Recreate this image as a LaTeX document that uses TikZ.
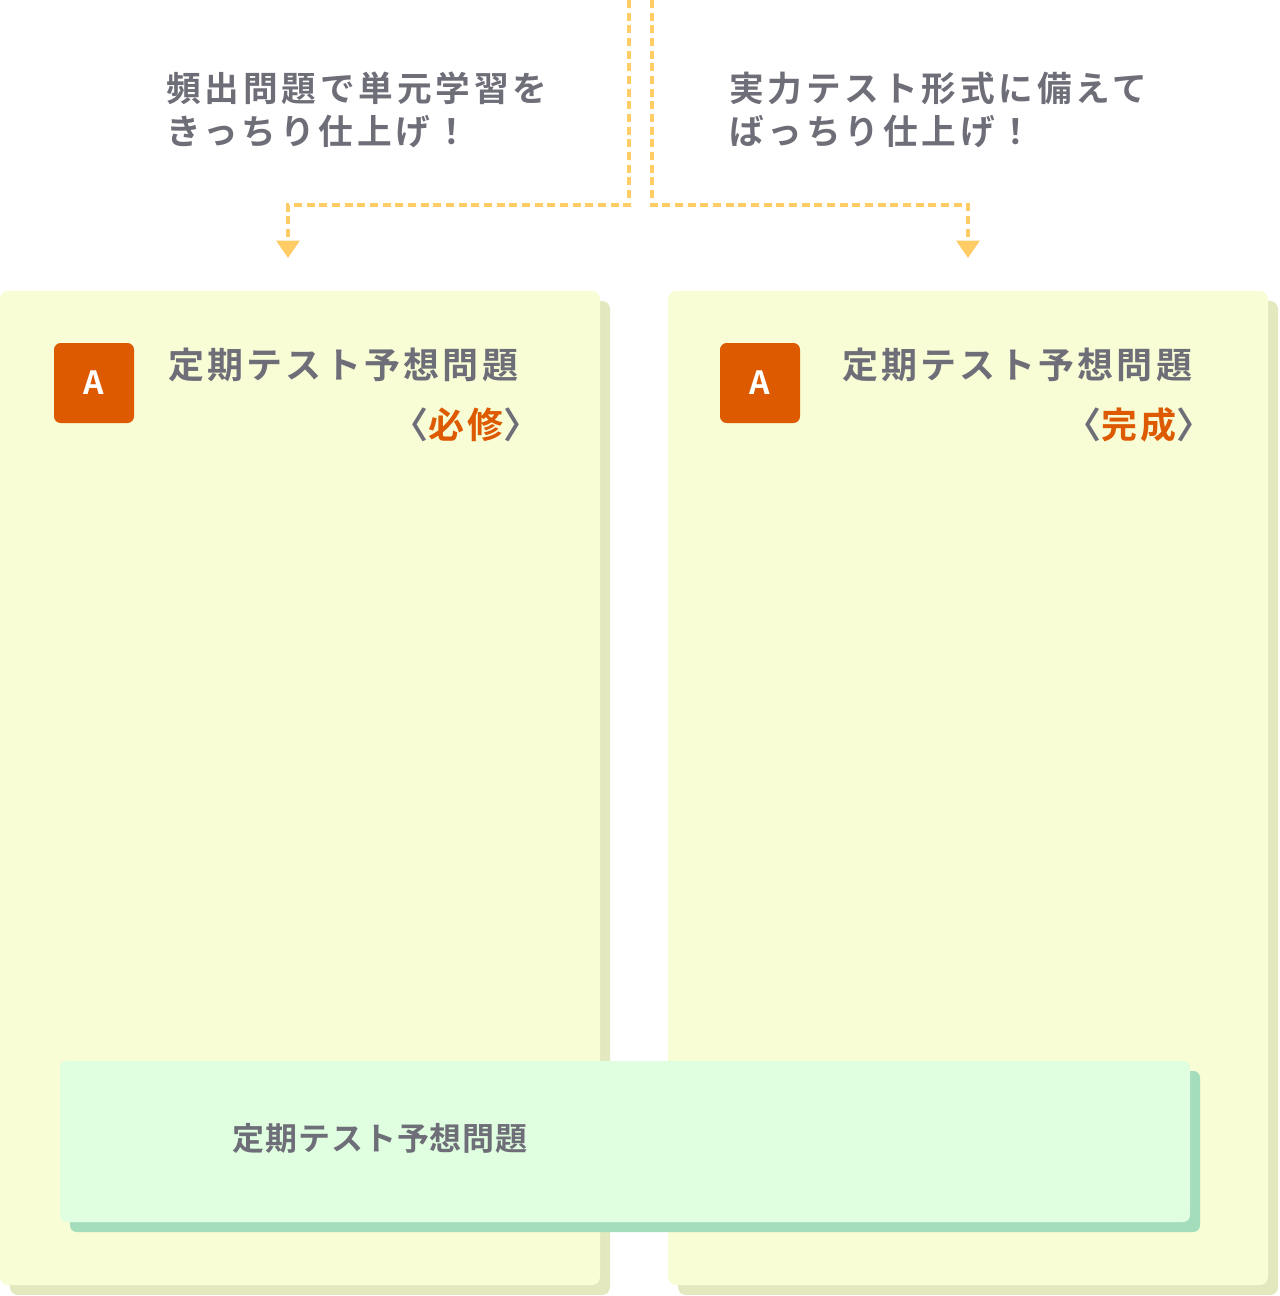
\documentclass[tikz,border=0pt]{standalone}
\usepackage{fontspec}
\setmainfont{Noto Sans CJK JP}[BoldFont={Noto Sans CJK JP Bold}]
\newfontfamily\leadfont{Noto Sans CJK JP Bold}[LetterSpace=11]
\newfontfamily\titlefont{Noto Sans CJK JP Bold}[LetterSpace=9]
\newfontfamily\boxfont{Noto Sans CJK JP Bold}[LetterSpace=3]
\usetikzlibrary{calc, positioning, arrows.meta}
\definecolor{txtgray}{HTML}{6E6E78}
\definecolor{accent}{HTML}{DD5A00}
\definecolor{dashyel}{HTML}{FFCC66}
\definecolor{panelbg}{HTML}{F8FDD6}
\definecolor{panelsh}{HTML}{E3E8BE}
\definecolor{greenbg}{HTML}{E0FFE0}
\definecolor{greensh}{HTML}{A3DDBB}
\tikzset{
    lead/.style={anchor=north west, align=left, text=txtgray, font=\leadfont\fontsize{26}{32}\selectfont, inner sep=0pt},
    title/.style={anchor=west, text=txtgray, font=\titlefont\fontsize{27}{32}\selectfont, inner sep=0pt},
    badge/.style={fill=accent, rounded corners=5pt, text=white, font=\bfseries\fontsize{24}{28}\selectfont},
    guide/.style={dashyel, line width=3pt, dash pattern=on 6pt off 3.5pt, -{Triangle[width=17pt,length=13pt]}}
}
\begin{document}
\begin{tikzpicture}[x=0.75pt, y=-0.75pt]
    \useasboundingbox (0,0) rectangle (1280,1296);

    % Guide lines
    \coordinate (topL) at (629,0);
    \coordinate (topR) at (652,0);
    \coordinate (tipL) at (288,258);
    \coordinate (tipR) at (968,258);
    \draw[guide] (topL) -- (629,205) -| (tipL);
    \draw[guide] (topR) -- (652,205) -| (tipR);

    % Lead texts
    \node[lead] (leadL) at (166,72) {頻出問題で単元学習を\\きっちり仕上げ！};
    \node[lead] (leadR) at (729,72) {実力テスト形式に備えて\\ばっちり仕上げ！};

    % Panels
    \fill[panelsh, rounded corners=6pt] (10,301) rectangle (610,1295);
    \fill[panelbg, rounded corners=6pt] (0,291) rectangle (600,1285);
    \fill[panelsh, rounded corners=6pt] (678,301) rectangle (1278,1295);
    \fill[panelbg, rounded corners=6pt] (668,291) rectangle (1268,1285);

    % Left panel
    \node[badge, minimum size=60pt] (badgeL) at (94,383) {A};
    \node[title] (titleL) at (168,365) {定期テスト予想問題};
    \node[title, anchor=east] (subL) at (540,425) {〈\textcolor{accent}{必修}〉};

    % Right panel
    \node[badge, minimum size=60pt] (badgeR) at (760,383) {A};
    \node[title] (titleR) at (842,365) {定期テスト予想問題};
    \node[title, anchor=east] (subR) at (1213,425) {〈\textcolor{accent}{完成}〉};

    % Bottom box
    \fill[greensh, rounded corners=5pt] (70,1071) rectangle (1200,1232);
    \fill[greenbg, rounded corners=5pt] (60,1061) rectangle (1190,1222);
    \node[title, font=\boxfont\fontsize{24}{28}\selectfont] (titleB) at (232,1138) {定期テスト予想問題};
\end{tikzpicture}
\end{document}
